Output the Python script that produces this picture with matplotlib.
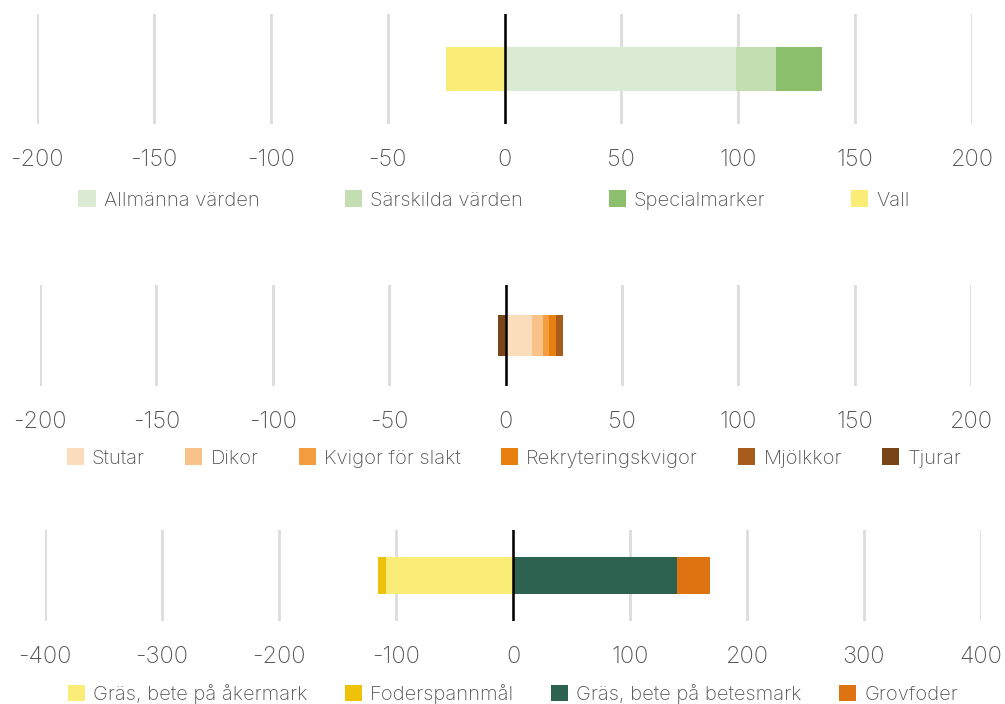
import matplotlib.pyplot as plt
from matplotlib.patches import Patch

plt.rcParams['font.family'] = ['Inter', 'DejaVu Sans']
plt.rcParams['font.weight'] = 'light'
plt.rcParams['axes.unicode_minus'] = False

# Areal (ha) per kategori
area_labels = ["Allmänna värden", "Särskilda värden", "Specialmarker", "Vall"]
area_values = [99, 17, 20, -25]
area_colors = ["#dbead2", "#c3dfb2", "#8bbf6b", "#f9ec77"]

# Djur per kategori
animal_labels = ["Stutar", "Dikor", "Kvigor för slakt", "Rekryteringskvigor",
                 "Mjölkkor", "Tjurar"]
animal_values = [11.6, 4.3, 3.0, 3.0, 2.6, -3.4]
animal_colors = ["#fbdcbb", "#f8c289", "#f49d3e", "#e8800f", "#a85c1c", "#7a4516"]

# Foder per kategori
feed_labels = ["Gräs, bete på åkermark", "Foderspannmål",
               "Gräs, bete på betesmark", "Grovfoder"]
feed_values = [-108.5, -7, 140, 28]
feed_colors = ["#f9ec77", "#eec20a", "#2d6150", "#de7411"]

W, H = 1005, 704
fig = plt.figure(figsize=(W / 100, H / 100), dpi=100)

text_color = "#555555"


def px_axes(x0, x1, y_top, y_bot):
    return fig.add_axes([x0 / W, 1 - y_bot / H, (x1 - x0) / W, (y_bot - y_top) / H])


def stacked(ax, values, colors, lim, step):
    pos, neg = 0, 0
    for v, c in zip(values, colors):
        if v >= 0:
            ax.barh(0, v, left=pos, height=0.4, color=c, zorder=2)
            pos += v
        else:
            ax.barh(0, v, left=neg, height=0.4, color=c, zorder=2)
            neg += v
    ax.set_xlim(-lim, lim)
    ax.set_ylim(-0.5, 0.5)
    ax.set_xticks(range(-lim, lim + 1, step))
    ax.set_yticks([])
    ax.grid(axis="x", color="#dcdcdc", linewidth=2, zorder=0)
    ax.axvline(0, color="black", linewidth=1.8, zorder=3)
    for s in ax.spines.values():
        s.set_visible(False)
    ax.tick_params(axis="x", length=0, pad=18, labelsize=17, labelcolor=text_color)


def legend(labels, colors, x, y, spacing):
    handles = [Patch(facecolor=c, edgecolor="none") for c in colors]
    fig.legend(handles, labels, loc="center", bbox_to_anchor=(x / W, 1 - y / H),
               ncol=len(labels), frameon=False, fontsize=14.5, labelcolor=text_color,
               handlelength=0.85, handleheight=0.85, handletextpad=0.4,
               columnspacing=spacing)


ax1 = px_axes(37, 972, 14, 124)
stacked(ax1, area_values, area_colors, 200, 50)
legend(area_labels, area_colors, 494, 200, 4.25)

ax2 = px_axes(40, 971, 285, 386)
stacked(ax2, animal_values, animal_colors, 200, 50)
legend(animal_labels, animal_colors, 514, 458, 2.0)

ax3 = px_axes(45, 981, 530, 621)
stacked(ax3, feed_values, feed_colors, 400, 100)
legend(feed_labels, feed_colors, 513, 694, 1.85)

fig.savefig("out.png", dpi=100)
